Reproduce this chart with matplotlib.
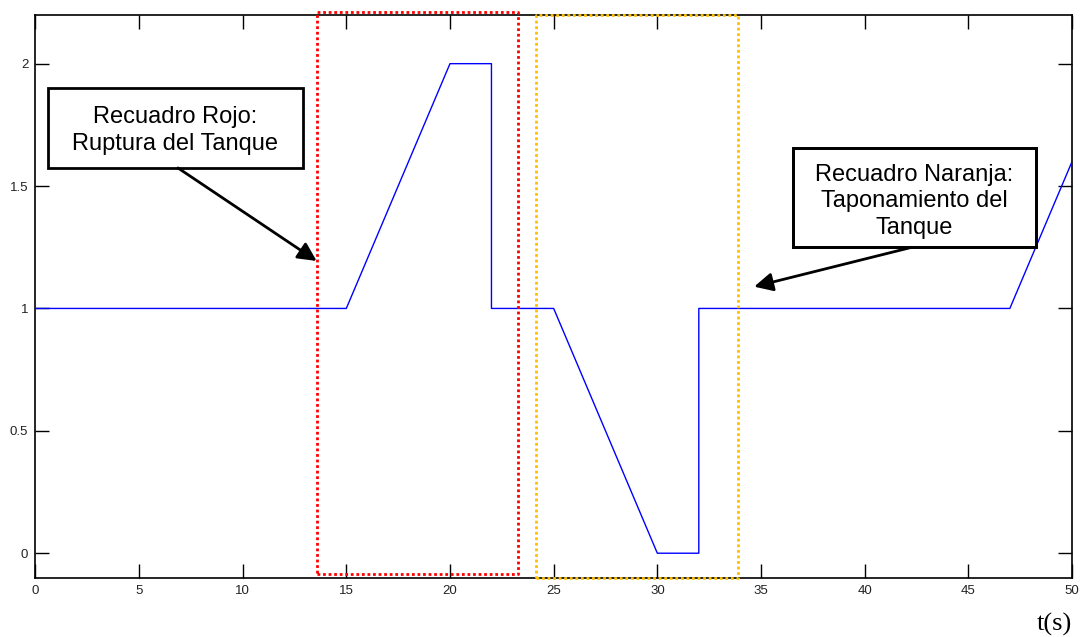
import matplotlib
matplotlib.use("Agg")
import matplotlib.pyplot as plt
from matplotlib.patches import Rectangle

# Data
t = [0, 15, 20, 22, 22, 25, 30, 32, 32, 47, 50]
y = [1, 1, 2, 2, 1, 1, 0, 0, 1, 1, 1.6]
xticks = [0, 5, 10, 15, 20, 25, 30, 35, 40, 45, 50]
yticks = [0, 0.5, 1, 1.5, 2]
red_box = (13.6, 23.3, -0.085, 2.21)     # x0, x1, y0, y1
orange_box = (24.15, 33.9, -0.1, 2.2)
label_red = "Recuadro Rojo:\nRuptura del Tanque"
label_orange = "Recuadro Naranja:\nTaponamiento del\nTanque"

fig = plt.figure(figsize=(10.82, 6.37), dpi=100)
ax = fig.add_axes([0.0326, 0.0931, 0.9582, 0.8838])
ax.plot(t, y, color="#0000ff", lw=1.0, zorder=3)
ax.set_xlim(0, 50)
ax.set_ylim(-0.1, 2.2)
ax.set_xticks(xticks)
ax.set_xticklabels([str(v) for v in xticks])
ax.set_yticks(yticks)
ax.set_yticklabels(["0", "0.5", "1", "1.5", "2"])
ax.tick_params(direction="in", length=10, width=1, top=True, right=True,
               labelsize=9.5, pad=5, labelcolor="#222222")
for sp in ax.spines.values():
    sp.set_linewidth(1.2)
for lab in ax.get_xticklabels() + ax.get_yticklabels():
    lab.set_family("Liberation Sans")

def dotted_box(b, color):
    x0, x1, y0, y1 = b
    ax.plot([x0, x1, x1, x0, x0], [y0, y0, y1, y1, y0], color=color,
            lw=2.0, linestyle=(0, (1, 1)), clip_on=False, zorder=4)

dotted_box(red_box, "#ff0000")
dotted_box(orange_box, "#ffc000")

# Annotation boxes
ax.add_patch(Rectangle((0.61, 1.574), 12.29, 0.326, facecolor="white",
                       edgecolor="black", lw=2, zorder=5))
ax.text(6.75, 1.727, label_red, ha="center", va="center", fontsize=17,
        family="Liberation Sans", linespacing=1.27, zorder=6)
ax.add_patch(Rectangle((36.55, 1.250), 11.72, 0.405, facecolor="white",
                       edgecolor="black", lw=2, zorder=5))
ax.text(42.4, 1.437, label_orange, ha="center", va="center", fontsize=17,
        family="Liberation Sans", linespacing=1.24, zorder=6, clip_on=True)
ax.add_patch(Rectangle((36.55, 1.250), 11.72, 0.405, facecolor="none",
                       edgecolor="black", lw=2, zorder=7))

ax.annotate("", xy=(13.57, 1.194), xytext=(6.88, 1.574),
            arrowprops=dict(arrowstyle="-|>", lw=2, color="black",
                            mutation_scale=28, shrinkA=0, shrinkB=0), zorder=8)
ax.annotate("", xy=(34.67, 1.089), xytext=(42.28, 1.250),
            arrowprops=dict(arrowstyle="-|>", lw=2, color="black",
                            mutation_scale=28, shrinkA=0, shrinkB=0), zorder=8)

fig.text(0.991, 0.002, "t(s)", ha="right", va="bottom", fontsize=19,
         family="Liberation Serif")

fig.savefig("out.png", dpi=100)
